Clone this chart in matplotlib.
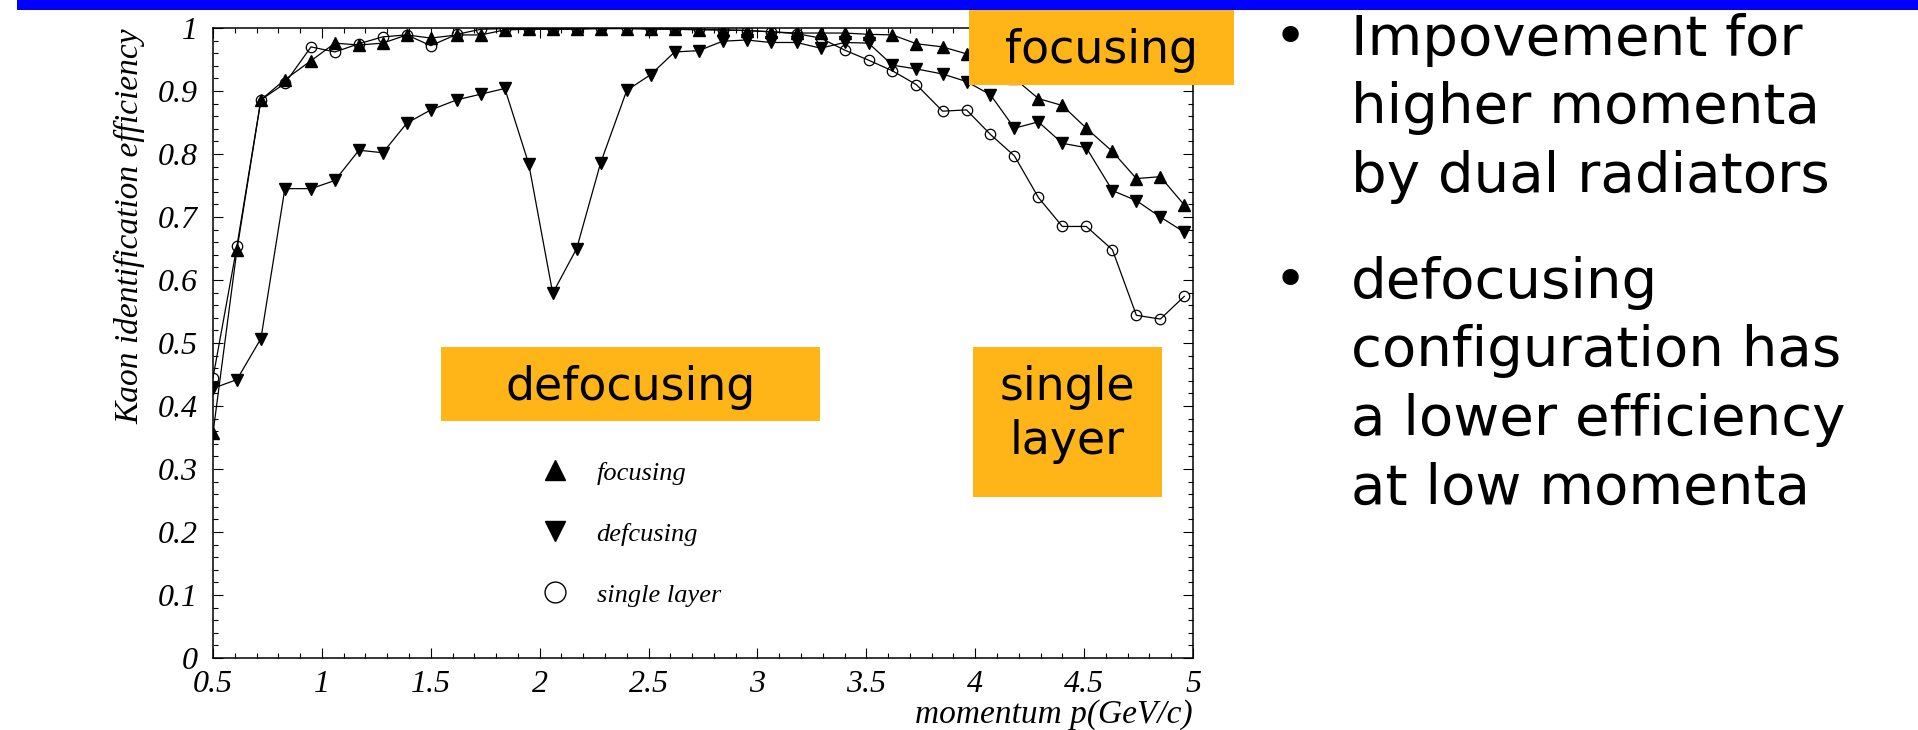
import matplotlib
matplotlib.use("Agg")
import matplotlib.pyplot as plt
from matplotlib.lines import Line2D
from matplotlib.patches import Rectangle
from matplotlib.ticker import MultipleLocator, FuncFormatter

# momentum bins (GeV/c) and kaon id efficiency for the three radiator setups
momentum = [0.50, 0.61, 0.72, 0.83, 0.95, 1.06, 1.17, 1.28, 1.39, 1.50,
            1.62, 1.73, 1.84, 1.95, 2.06, 2.17, 2.28, 2.40, 2.51, 2.62,
            2.73, 2.84, 2.95, 3.06, 3.18, 3.29, 3.40, 3.51, 3.62, 3.73,
            3.85, 3.96, 4.07, 4.18, 4.29, 4.40, 4.51, 4.63, 4.74, 4.85,
            4.96]

eff_focusing = [0.357, 0.648, 0.886, 0.918, 0.948, 0.976, 0.973, 0.976, 0.989, 0.984,
                0.989, 0.989, 0.997, 0.998, 0.998, 0.998, 0.999, 0.999, 0.998, 0.998,
                0.997, 0.997, 0.996, 0.994, 0.992, 0.992, 0.992, 0.990, 0.989, 0.975,
                0.970, 0.959, 0.942, 0.920, 0.888, 0.877, 0.841, 0.804, 0.761, 0.764,
                0.719]

eff_defocusing = [0.428, 0.442, 0.507, 0.745, 0.745, 0.758, 0.806, 0.802, 0.849, 0.870,
                  0.886, 0.895, 0.904, 0.784, 0.579, 0.650, 0.786, 0.901, 0.926, 0.962,
                  0.964, 0.979, 0.981, 0.977, 0.977, 0.968, 0.977, 0.976, 0.941, 0.935,
                  0.927, 0.915, 0.894, 0.841, 0.851, 0.817, 0.810, 0.742, 0.726, 0.700,
                  0.676]

eff_single = [0.445, 0.654, 0.886, 0.912, 0.970, 0.962, 0.975, 0.986, 0.989, 0.972,
              0.990, 0.998, 0.999, 0.999, 0.999, 0.999, 1.000, 1.000, 0.999, 0.999,
              0.998, 0.997, 0.996, 0.994, 0.991, 0.984, 0.965, 0.949, 0.932, 0.910,
              0.868, 0.870, 0.831, 0.797, 0.731, 0.685, 0.685, 0.648, 0.544, 0.538,
              0.574]

legend_labels = ["focusing", "defcusing", "single layer"]

bullets = [["Impovement for", "higher momenta", "by dual radiators"],
           ["defocusing", "configuration has", "a lower efficiency", "at low momenta"]]

W, H = 1918, 730
ORANGE = "#FFB418"
serif = {"family": "Liberation Serif", "style": "italic"}

fig = plt.figure(figsize=(W / 100, H / 100), dpi=100)
fig.patch.set_facecolor("white")


def fx(px):
    return px / W


def fy(py):
    return 1 - py / H


ax = fig.add_axes([fx(213), fy(658), (1193 - 213) / W, 630 / H])

ax.plot(momentum, eff_single, color="black", lw=0.9, marker="o", ms=7.5,
        mfc="none", mec="black", mew=0.9, zorder=3)
ax.plot(momentum, eff_focusing, color="black", lw=0.9, marker="^", ms=8,
        mfc="black", mec="black", zorder=4)
ax.plot(momentum, eff_defocusing, color="black", lw=0.9, marker="v", ms=8,
        mfc="black", mec="black", zorder=4)

ax.set_xlim(0.5, 5.0)
ax.set_ylim(0, 1.0)
ax.xaxis.set_major_locator(MultipleLocator(0.5))
ax.xaxis.set_minor_locator(MultipleLocator(0.1))
ax.yaxis.set_major_locator(MultipleLocator(0.1))
ax.yaxis.set_minor_locator(MultipleLocator(0.02))
fmt = FuncFormatter(lambda v, p: "%g" % round(v, 2))
ax.xaxis.set_major_formatter(fmt)
ax.yaxis.set_major_formatter(fmt)
ax.tick_params(which="both", direction="in", top=True, right=True, width=0.8)
ax.tick_params(which="major", length=7.5, pad=11)
ax.tick_params(axis="x", which="major", pad=8.5)
ax.tick_params(which="minor", length=3.8)
for lab in ax.get_xticklabels() + ax.get_yticklabels():
    lab.set_fontfamily("Liberation Serif")
    lab.set_fontstyle("italic")
    lab.set_fontsize(23)
for sp in ax.spines.values():
    sp.set_linewidth(1.1)

ax.set_ylabel("Kaon identification efficiency", fontdict=serif, fontsize=24, loc="top")
ax.yaxis.set_label_coords(-0.069, 1.0)
ax.set_xlabel("momentum p(GeV/c)", fontdict=serif, fontsize=24, loc="right")
ax.xaxis.set_label_coords(1.0, -0.065)

handles = [Line2D([], [], ls="none", marker=m, ms=15, mfc=fc, mec="black", mew=1.0)
           for m, fc in [("^", "black"), ("v", "black"), ("o", "none")]]
ax.legend(handles, legend_labels, loc="center left", bbox_to_anchor=(1.96, 0.197),
          bbox_transform=ax.transData, frameon=False, borderpad=0, handlelength=0.8,
          handletextpad=1.19, labelspacing=1.42, prop={**serif, "size": 19})

# slide decoration: blue header bar and orange labels
fig.add_artist(Rectangle((fx(17), fy(10)), 1 - fx(17), 10 / H, transform=fig.transFigure,
                         facecolor="#0000FF", edgecolor="none", zorder=5))


def label_box(x0, y0, x1, y1, lines, baselines):
    fig.add_artist(Rectangle((fx(x0), fy(y1)), fx(x1 - x0), (y1 - y0) / H,
                             transform=fig.transFigure, facecolor=ORANGE,
                             edgecolor="none", zorder=5))
    for txt, b in zip(lines, baselines):
        fig.text(fx((x0 + x1) / 2), fy(b), txt, ha="center", va="baseline",
                 family="DejaVu Sans", fontsize=33, zorder=6)


label_box(969, 10, 1234, 85, ["focusing"], [63])
label_box(441, 347, 820, 421, ["defocusing"], [400])
label_box(973, 347, 1162, 497, ["single", "layer"], [400, 454])

# bullet list on the right
baselines = [[55, 123.3, 192.3], [297.7, 366, 435, 503.3]]
for lines, bl in zip(bullets, baselines):
    fig.text(fx(1290), fy(bl[0]), "\u2022", ha="center", va="baseline",
             family="DejaVu Sans", fontsize=40.5)
    for txt, b in zip(lines, bl):
        fig.text(fx(1351), fy(b), txt, ha="left", va="baseline",
                 family="DejaVu Sans", fontsize=40.5)

fig.savefig("out.png", dpi=100)
